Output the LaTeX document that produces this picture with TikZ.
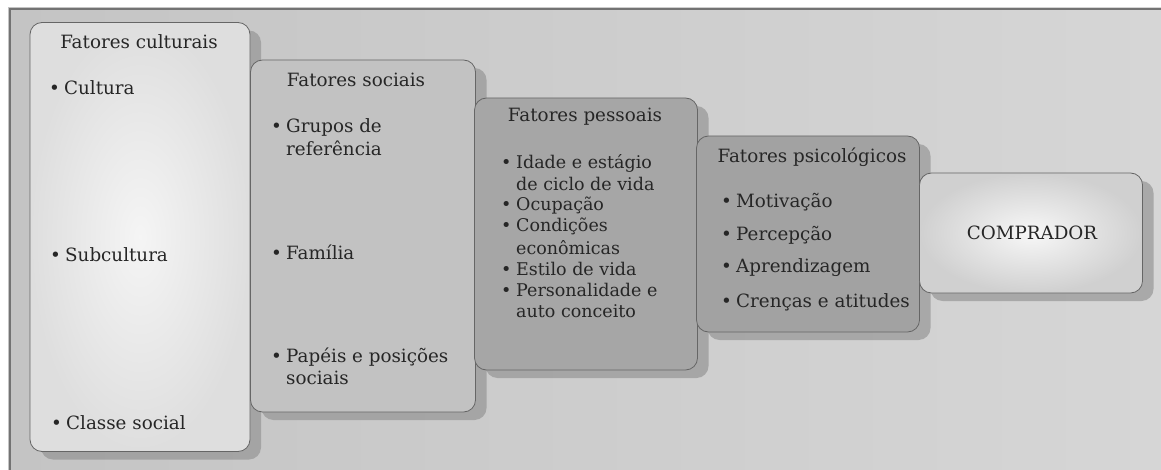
\documentclass[tikz,border=0pt]{standalone}
\usepackage{fontspec}
\setmainfont{DejaVu Serif}
\usetikzlibrary{shadows}

\newcommand{\itembullet}{\makebox[15pt][l]{\textbullet}}

\begin{document}
\begin{tikzpicture}[x=1pt, y=-1pt,
        every node/.style={font=\fontsize{18.3}{21}\selectfont, text=black!85},
        factorbox/.style={draw=black!60, line width=0.8pt, rounded corners=12pt,
            drop shadow={shadow xshift=11pt, shadow yshift=-8pt, fill=black!45, opacity=0.6}},
        bulletitem/.style={anchor=west, inner sep=0pt}]
        \definecolor{pagegray}{RGB}{196,196,196}
        \definecolor{pagelight}{RGB}{214,214,214}
        \definecolor{culturalgray}{RGB}{222,222,222}
        \definecolor{socialgray}{RGB}{194,194,194}
        \definecolor{personalgray}{RGB}{166,166,166}
        \definecolor{psychgray}{RGB}{162,162,162}
        \definecolor{buyergray}{RGB}{208,208,208}

        \useasboundingbox (0,0) rectangle (1161,470);

        % Scanned page behind the diagram
        \shade[left color=pagegray, right color=pagelight] (8,8) rectangle (1161,470);
        \draw[black!55, line width=1.2pt] (10,470) -- (10,9) -- (1161,9);

        % Factor boxes, left to right
        \node[factorbox, inner color=white!96!black, outer color=culturalgray, minimum width=220pt, minimum height=429pt] (cultural) at (140,237) {};
        \node[factorbox, fill=socialgray, minimum width=225pt, minimum height=352pt] (social) at (363,236) {};
        \node[factorbox, fill=personalgray, minimum width=223pt, minimum height=272pt] (personal) at (586,234) {};
        \node[factorbox, fill=psychgray, minimum width=223pt, minimum height=196pt] (psych) at (808,234) {};
        \node[factorbox, inner color=white!97!black, outer color=buyergray, minimum width=223pt, minimum height=120pt] (buyer) at (1031,233) {};

        % Fatores culturais
        \node (culturaltitle) at (139,42) {Fatores culturais};
        \node[bulletitem] (cultura) at (49,88) {\itembullet Cultura};
        \node[bulletitem] (subcultura) at (50,255) {\itembullet Subcultura};
        \node[bulletitem] (classe) at (51,423) {\itembullet Classe social};

        % Fatores sociais
        \node (socialtitle) at (356,80) {Fatores sociais};
        \node[bulletitem] (grupos) at (271,127) {\itembullet Grupos de};
        \node[bulletitem] (grupos2) at (286,148) {referência};
        \node[bulletitem] (familia) at (271,252) {\itembullet Família};
        \node[bulletitem] (papeis) at (271,357) {\itembullet Papéis e posições};
        \node[bulletitem] (papeis2) at (286,378) {sociais};

        % Fatores pessoais
        \node (personaltitle) at (585,117) {Fatores pessoais};
        \foreach \dx/\txt [count=\k from 0] in {0/{\itembullet Idade e estágio}, 15/de ciclo de vida,
                0/{\itembullet Ocupação}, 0/{\itembullet Condições}, 15/econômicas,
                0/{\itembullet Estilo de vida}, 0/{\itembullet Personalidade e}, 15/auto conceito}
            \node[bulletitem, font=\fontsize{17.5}{21}\selectfont] (pessoais\k) at (501+\dx,163+21.1*\k) {\txt};

        % Fatores psicologicos
        \node (psychtitle) at (812,157) {Fatores psicológicos};
        \node[bulletitem] (motivacao) at (721,202) {\itembullet Motivação};
        \node[bulletitem] (percepcao) at (721,235) {\itembullet Percepção};
        \node[bulletitem] (aprendizagem) at (721,268) {\itembullet Aprendizagem};
        \node[bulletitem] (crencas) at (721,302) {\itembullet Crenças e atitudes};

        % Comprador
        \node (buyertitle) at (1032,233) {COMPRADOR};
    \end{tikzpicture}
\end{document}
